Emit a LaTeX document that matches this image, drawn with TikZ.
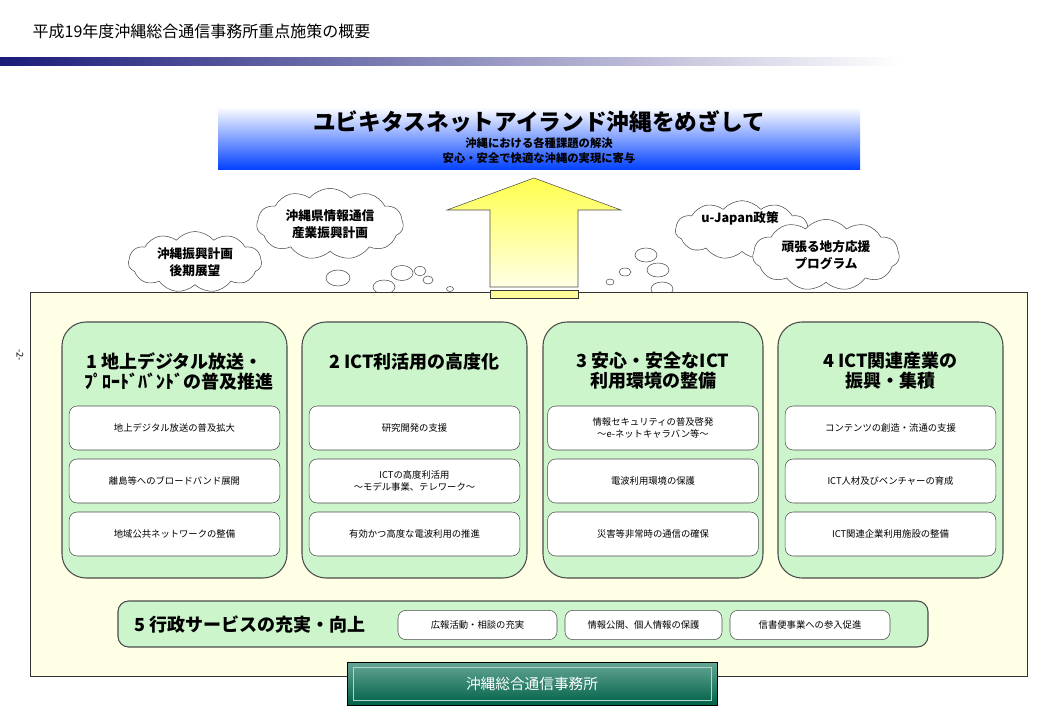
\documentclass[tikz,border=0pt]{standalone}
\usepackage{fontspec}
\setmainfont{Noto Sans CJK JP}
\usetikzlibrary{shapes.symbols,shapes.geometric}
\definecolor{mint}{HTML}{CCF5CC}
\definecolor{pale}{HTML}{FFFFE6}
\definecolor{navy}{HTML}{1A1A7A}
\definecolor{deepteal}{HTML}{006B4F}
\tikzset{
  colbox/.style={draw=black!70,fill=mint,rounded corners=18pt,thick},
  itembox/.style={draw=black!70,fill=white,rounded corners=6pt,align=center,font=\fontsize{7}{9}\selectfont},
  colhead/.style={font=\bfseries\fontsize{13.5}{15}\selectfont,align=center},
  thought/.style={cloud,cloud puffs=11,cloud puff arc=100,aspect=2.2,draw=black!70,fill=white,align=center,inner sep=0pt,font=\bfseries\fontsize{9.5}{13}\selectfont},
  cloudtext/.style={align=center,font=\bfseries\fontsize{9.5}{13}\selectfont},
  bubble/.style={ellipse,draw=black!70,fill=white,inner sep=0pt}
}
\begin{document}
\begin{tikzpicture}[x=0.75pt,y=-0.75pt]
  \useasboundingbox (0,0) rectangle (1040,720);
  \node[anchor=west,font=\fontsize{12}{13}\selectfont] (title) at (28,31) {平成19年度沖縄総合通信事務所重点施策の概要};
  \shade[left color=navy,right color=white] (0,58) rectangle (900,66);

  % goal box
  \shade[top color=white,bottom color=blue!75!cyan] (218,107) rectangle (860,170);
  \node[font=\bfseries\fontsize{17}{18}\selectfont] (goal) at (539,122) {ユビキタスネットアイランド沖縄をめざして};
  \node[font=\bfseries\fontsize{8.5}{11}\selectfont,align=center] (goalsub) at (539,151) {沖縄における各種課題の解決\\安心・安全で快適な沖縄の実現に寄与};

  % arrow
  \shade[top color=yellow!70,bottom color=yellow!10,draw=black!70]
    (534,178) -- (621,210) -- (578,210) -- (578,287) -- (490,287) -- (490,210) -- (447,210) -- cycle;

  % thought clouds
  \node[thought,minimum width=100pt,minimum height=40pt] (plan) at (195,262) {沖縄振興計画\\後期展望};
  \node[thought,minimum width=110pt,minimum height=48pt] (ict) at (330,224) {沖縄県情報通信\\産業振興計画};
  \node[thought,minimum width=100pt,minimum height=44pt] (ujp) at (742,230) {};
  \node[thought,minimum width=110pt,minimum height=44pt] (local) at (826,255) {頑張る地方応援\\プログラム};
  \node[cloudtext] (ujptext) at (740,218) {u-Japan政策};
  \foreach \x/\y/\w/\h in {338/278/24/16, 384/287/22/14, 402/273/22/15, 420/271/12/9, 428/280/10/8, 450/289/7/5,
                           610/282/8/6, 625/272/12/8, 646/255/22/14, 658/270/22/14, 662/289/22/14, 623/300/8/6}
    \node[bubble,minimum width=\w*0.75pt,minimum height=\h*0.75pt] at (\x,\y) {};

  % main panel
  \draw[black!80,fill=pale] (30,292) rectangle (1027,676);
  \draw[black!80,fill=yellow!40] (490,290) rectangle (578,298);
  \node[rotate=-90,font=\fontsize{7}{8}\selectfont] (page) at (20,355) {-2-};

  % columns
  \foreach \n/\xa/\xb/\head/\ia/\ib/\ic in {
    c1/62/287/{1 地上デジタル放送・\\\ \ ﾌﾟﾛｰﾄﾞﾊﾞﾝﾄﾞの普及推進}/{地上デジタル放送の普及拡大}/{離島等へのブロードバンド展開}/{地域公共ネットワークの整備},
    c2/302/527/{2 ICT利活用の高度化\\\,}/{研究開発の支援}/{ICTの高度利活用\\～モデル事業、テレワーク～}/{有効かつ高度な電波利用の推進},
    c3/543/763/{3 安心・安全なICT\\利用環境の整備}/{情報セキュリティの普及啓発\\～e-ネットキャラバン等～}/{電波利用環境の保護}/{災害等非常時の通信の確保},
    c4/778/1003/{4 ICT関連産業の\\振興・集積}/{コンテンツの創造・流通の支援}/{ICT人材及びベンチャーの育成}/{ICT関連企業利用施設の整備}} {
    \draw[colbox] (\xa,322) rectangle (\xb,578);
    \node[colhead] (\n head) at ({(\xa+\xb)/2},371) {\head};
    \node[itembox,minimum width=158pt,minimum height=33pt] (\n a) at ({(\xa+\xb)/2},428) {\ia};
    \node[itembox,minimum width=158pt,minimum height=33pt] (\n b) at ({(\xa+\xb)/2},481) {\ib};
    \node[itembox,minimum width=158pt,minimum height=33pt] (\n c) at ({(\xa+\xb)/2},534) {\ic};
  }

  % row 5
  \draw[colbox,rounded corners=8pt] (118,601) rectangle (928,647);
  \node[colhead,anchor=west] (c5head) at (130,625) {5 行政サービスの充実・向上};
  \foreach \n/\xa/\xb/\txt in {d1/398/557/{広報活動・相談の充実}, d2/565/722/{情報公開、個人情報の保護}, d3/730/890/{信書便事業への参入促進}}
    \node[itembox,minimum width=(\xb-\xa)*0.75pt,minimum height=22pt] (\n) at ({(\xa+\xb)/2},625) {\txt};

  % office
  \shade[top color=deepteal!60,bottom color=deepteal!90!black,draw=black] (347,662) rectangle (717,705);
  \draw[white!70!deepteal] (353,667) rectangle (711,700);
  \node[text=white,font=\fontsize{11}{12}\selectfont] (office) at (532,684) {沖縄総合通信事務所};
\end{tikzpicture}
\end{document}
